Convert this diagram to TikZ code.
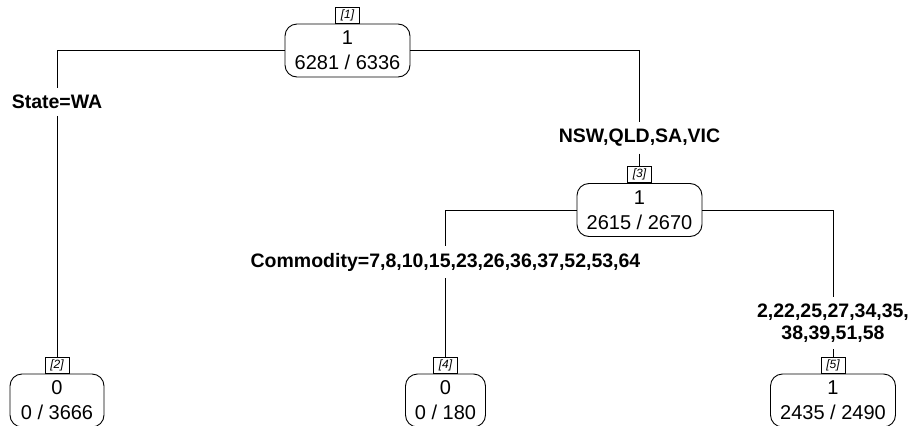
\documentclass[tikz,border=0pt]{standalone}
\usepackage{fontspec}
\setmainfont{Liberation Sans}
\begin{document}
\begin{tikzpicture}[x=1pt,y=-1pt, line width=0.9pt,
  box/.style={draw, rounded corners=12pt, minimum height=53pt, inner sep=0pt, align=center, font=\fontsize{20}{25}\selectfont},
  tag/.style={draw, line width=0.7pt, inner sep=0pt, minimum width=24pt, minimum height=16pt, font=\fontsize{12}{12}\selectfont\itshape},
  split/.style={font=\fontsize{19.5}{22}\selectfont\bfseries, inner sep=0pt, outer sep=7pt, align=center}]
\useasboundingbox (0,0) rectangle (914,426);
\fill[white] (0,0) rectangle (914,426);
% internal nodes
\node[box, minimum width=125pt] (n1) at (347.5,50.5) {1\\6281 / 6336};
\node[tag, anchor=south] (l1) at (n1.north) {[1]};
\node[box, minimum width=125pt] (n3) at (639.5,210) {1\\2615 / 2670};
\node[tag, anchor=south] (l3) at (n3.north) {[3]};
% split labels
\node[split] (s2) at (57,102) {State=WA};
\node[split] (s3) at (639.5,138) {NSW,QLD,SA,VIC};
\node[split] (s4) at (445.5,262) {Commodity=7,8,10,15,23,26,36,37,52,53,64};
\node[split] (s5) at (833,323) {2,22,25,27,34,35,\\38,39,51,58};
% leaves
\node[box, minimum width=94pt] (n2) at (57,400.5) {0\\0 / 3666};
\node[tag, anchor=south] (l2) at (n2.north) {[2]};
\node[box, minimum width=80pt] (n4) at (445.5,400.5) {0\\0 / 180};
\node[tag, anchor=south] (l4) at (n4.north) {[4]};
\node[box, minimum width=125pt] (n5) at (833,400.5) {1\\2435 / 2490};
\node[tag, anchor=south] (l5) at (n5.north) {[5]};
% connectors
\draw (n1.west) -| (s2.north);
\draw (s2.south) -- (l2.north);
\draw (n1.east) -| (s3.north);
\draw (s3.south) -- (l3.north);
\draw (n3.west) -| (s4.north);
\draw (s4.south) -- (l4.north);
\draw (n3.east) -| (s5.north);
\draw (s5.south) -- (l5.north);
\end{tikzpicture}
\end{document}
